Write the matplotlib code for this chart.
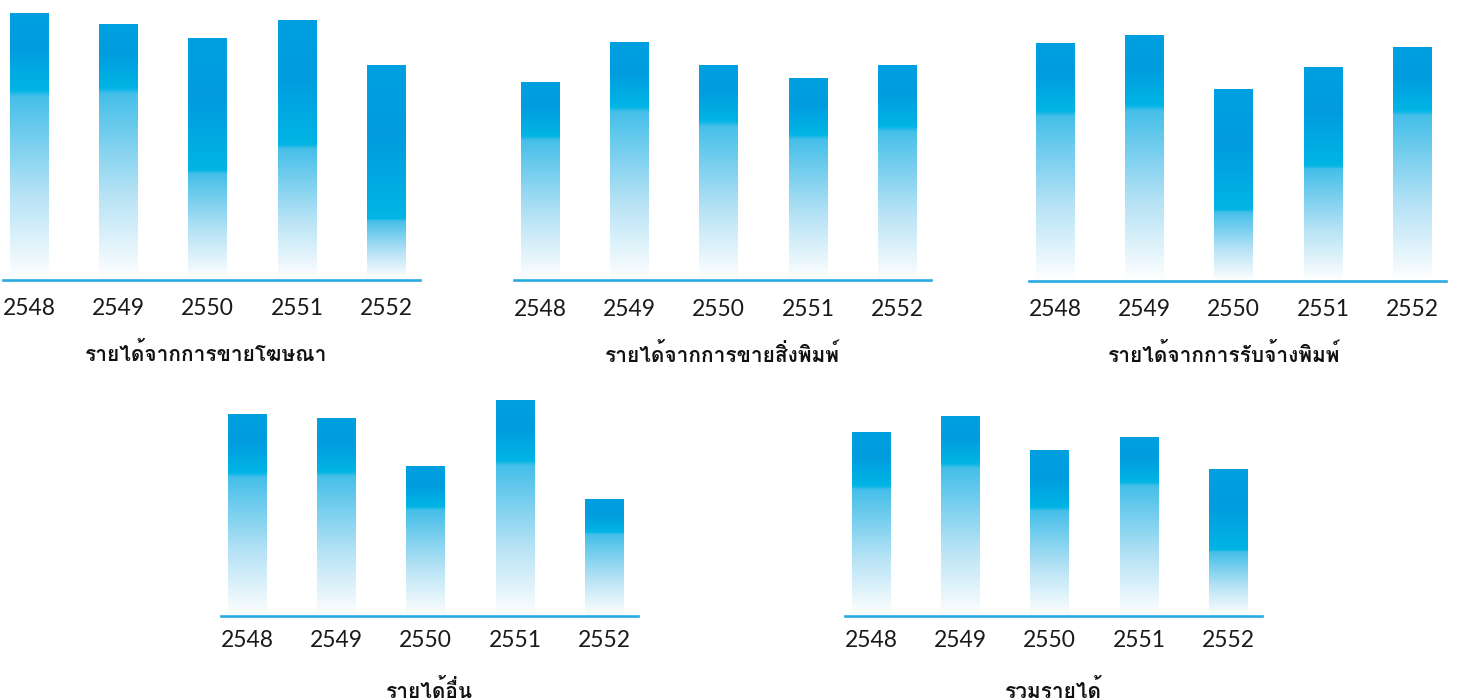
import matplotlib
matplotlib.use('Agg')
import matplotlib.pyplot as plt
import numpy as np
from matplotlib.colors import LinearSegmentedColormap

years = ['2548', '2549', '2550', '2551', '2552']

titles = [
    'รายได้จากการขายโฆษณา',
    'รายได้จากการขายสิ่งพิมพ์',
    'รายได้จากการรับจ้างพิมพ์',
    'รายได้อื่น',
    'รวมรายได้',
]

# bar heights (relative units)
advert = [265.5, 254.5, 240.5, 258.5, 213.5]
printed_sales = [197.5, 237.5, 214.5, 201.5, 214.5]
print_jobs = [238, 246, 192, 214, 234]
other = [202, 198, 150, 216, 116]
total = [184, 200, 166, 179, 147]

# depth (from bar top) where the dark blue turns cyan, per bar
cyan_depth = [
    [0.29, 0.25, 0.55, 0.48, 0.72],
    [0.27, 0.27, 0.26, 0.28, 0.285],
    [0.285, 0.285, 0.63, 0.46, 0.27],
    [0.29, 0.27, 0.27, 0.28, 0.28],
    [0.29, 0.235, 0.345, 0.25, 0.55],
]

W, H = 1460, 698
# left edge, baseline (pixels), title x shift (axes fraction), tick pad (pt)
layout = [
    (3, 279.5, -0.012, 13.0),
    (514, 280.5, 0.0, 13.0),
    (1029, 281, -0.031, 13.0),
    (221, 616, 0.0, 10.0),
    (845, 616, 0.0, 10.0),
]
AX_W, AX_H = 417, 270
LINE = '#29a9e1'


def bar_cmap(c):
    stops = [
        (0.0, '#ffffff'),
        (0.45 * (1 - c), '#b5e2f5'),
        (0.97 * (1 - c), '#45bfe9'),
        (1 - c, '#00b5e5'),
        (1 - 0.45 * c, '#009cde'),
        (1.0, '#00a1e1'),
    ]
    return LinearSegmentedColormap.from_list('g', stops)


fig = plt.figure(figsize=(W / 100, H / 100), dpi=100)
grad = np.linspace(0, 1, 400).reshape(-1, 1)
series = [advert, printed_sales, print_jobs, other, total]
x = np.arange(len(years))

for i, vals in enumerate(series):
    left, base, tshift, pad = layout[i]
    ax = fig.add_axes([left / W, 1 - base / H, AX_W / W, AX_H / H])
    ax.patch.set_visible(False)
    rects = ax.bar(x, vals, 0.43, color='none', edgecolor='none')
    for r, c in zip(rects, cyan_depth[i]):
        x0, w, h = r.get_x(), r.get_width(), r.get_height()
        ax.imshow(grad, cmap=bar_cmap(c), extent=(x0, x0 + w, 0, h),
                  origin='lower', aspect='auto', zorder=1, interpolation='bilinear')
    ax.set_xlim(-0.29, 4.375)
    ax.set_ylim(0, AX_H)
    for s in ['top', 'left', 'right']:
        ax.spines[s].set_visible(False)
    ax.spines['bottom'].set_color(LINE)
    ax.spines['bottom'].set_linewidth(1.9)
    ax.spines['bottom'].set_zorder(3)
    ax.set_yticks([])
    ax.set_xticks(x, years)
    ax.tick_params(axis='x', length=0, pad=pad, labelsize=16.5, labelcolor='#1a1a1a')
    for lab in ax.get_xticklabels():
        lab.set_family(['Lato', 'DejaVu Sans'])
    ax.text(0.5 + tshift, -74 / AX_H, titles[i], transform=ax.transAxes,
            ha='center', va='center', fontsize=15, fontweight='bold',
            family=['Loma', 'DejaVu Sans'], color='#111111')

plt.savefig('out.png', dpi=100)
